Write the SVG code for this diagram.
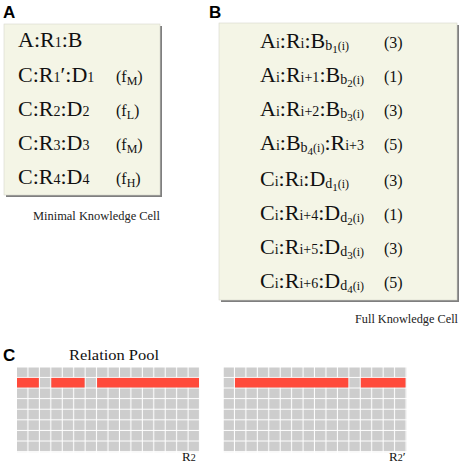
<svg xmlns="http://www.w3.org/2000/svg" width="461" height="466" viewBox="0 0 461 466">
<style>
.panel{font-family:"Liberation Sans",Arial,sans-serif;font-weight:bold;font-size:17px;fill:#000}
.box{fill:#f4f5e6;stroke:#d8d8cc;stroke-width:0.6}
.shadow{fill:#7f7f7f}
.t{font-family:"Liberation Serif","Times New Roman",serif;font-size:22px;fill:#111}
.f{font-family:"Liberation Serif","Times New Roman",serif;font-size:16px;fill:#111}
.cap{font-family:"Liberation Serif","Times New Roman",serif;font-size:12px;fill:#222}
.s{font-size:14px}
.red{fill:#ff4a3b}
</style>
<defs>
<pattern id="cell" patternUnits="userSpaceOnUse" width="11.44" height="10.6"><rect width="10.4" height="9.6" fill="#cdcdcd"/></pattern>
</defs>
<rect width="461" height="466" fill="#ffffff"/>

<text class="panel" x="3" y="18">A</text>
<text class="panel" x="209" y="18">B</text>
<text class="panel" x="3" y="361">C</text>

<g id="minimal-cell">
<rect class="shadow" x="6" y="26" width="156" height="171"/>
<rect class="box" x="4" y="24" width="156" height="171"/>
<text class="t" x="18" y="47">A:R<tspan class="s">1</tspan>:B</text>
<text class="t" x="18" y="82">C:R<tspan class="s">1</tspan>′:D<tspan class="s">1</tspan></text>
<text class="f" x="116" y="82">(f<tspan font-size="12" dy="3">M</tspan><tspan dy="-3">)</tspan></text>
<text class="t" x="18" y="116">C:R<tspan class="s">2</tspan>:D<tspan class="s">2</tspan></text>
<text class="f" x="116" y="116">(f<tspan font-size="12" dy="3">L</tspan><tspan dy="-3">)</tspan></text>
<text class="t" x="18" y="150">C:R<tspan class="s">3</tspan>:D<tspan class="s">3</tspan></text>
<text class="f" x="116" y="150">(f<tspan font-size="12" dy="3">M</tspan><tspan dy="-3">)</tspan></text>
<text class="t" x="18" y="184">C:R<tspan class="s">4</tspan>:D<tspan class="s">4</tspan></text>
<text class="f" x="116" y="184">(f<tspan font-size="12" dy="3">H</tspan><tspan dy="-3">)</tspan></text>
<text class="cap" x="33" y="220" textLength="127" lengthAdjust="spacingAndGlyphs">Minimal Knowledge Cell</text>
</g>

<g id="full-cell">
<rect class="shadow" x="221" y="25" width="238" height="277"/>
<rect class="box" x="219" y="23" width="238" height="277"/>
<text class="t" x="260" y="48">A<tspan class="s">i</tspan>:R<tspan class="s">i</tspan>:B<tspan font-size="14" dy="2">b</tspan><tspan font-size="11" dy="3">1</tspan><tspan font-size="12" dy="-3">(i)</tspan></text>
<text class="f" x="384" y="48">(3)</text>
<text class="t" x="260" y="82">A<tspan class="s">i</tspan>:R<tspan class="s">i+1</tspan>:B<tspan font-size="14" dy="2">b</tspan><tspan font-size="11" dy="3">2</tspan><tspan font-size="12" dy="-3">(i)</tspan></text>
<text class="f" x="384" y="82">(1)</text>
<text class="t" x="260" y="116">A<tspan class="s">i</tspan>:R<tspan class="s">i+2</tspan>:B<tspan font-size="14" dy="2">b</tspan><tspan font-size="11" dy="3">3</tspan><tspan font-size="12" dy="-3">(i)</tspan></text>
<text class="f" x="384" y="116">(3)</text>
<text class="t" x="260" y="150">A<tspan class="s">i</tspan>:B<tspan font-size="14" dy="2">b</tspan><tspan font-size="11" dy="3">4</tspan><tspan font-size="12" dy="-3">(i)</tspan><tspan dy="-2">:R</tspan><tspan class="s">i+3</tspan></text>
<text class="f" x="384" y="150">(5)</text>
<text class="t" x="260" y="186">C<tspan class="s">i</tspan>:R<tspan class="s">i</tspan>:D<tspan font-size="14" dy="2">d</tspan><tspan font-size="11" dy="3">1</tspan><tspan font-size="12" dy="-3">(i)</tspan></text>
<text class="f" x="384" y="186">(3)</text>
<text class="t" x="260" y="220">C<tspan class="s">i</tspan>:R<tspan class="s">i+4</tspan>:D<tspan font-size="14" dy="2">d</tspan><tspan font-size="11" dy="3">2</tspan><tspan font-size="12" dy="-3">(i)</tspan></text>
<text class="f" x="384" y="220">(1)</text>
<text class="t" x="260" y="254">C<tspan class="s">i</tspan>:R<tspan class="s">i+5</tspan>:D<tspan font-size="14" dy="2">d</tspan><tspan font-size="11" dy="3">3</tspan><tspan font-size="12" dy="-3">(i)</tspan></text>
<text class="f" x="384" y="254">(3)</text>
<text class="t" x="260" y="288">C<tspan class="s">i</tspan>:R<tspan class="s">i+6</tspan>:D<tspan font-size="14" dy="2">d</tspan><tspan font-size="11" dy="3">4</tspan><tspan font-size="12" dy="-3">(i)</tspan></text>
<text class="f" x="384" y="288">(5)</text>
<text class="cap" x="355" y="323" textLength="103" lengthAdjust="spacingAndGlyphs">Full Knowledge Cell</text>
</g>

<g id="relation-pool">
<text class="t" x="69" y="360" font-size="15" textLength="90" lengthAdjust="spacingAndGlyphs" style="font-size:15px">Relation Pool</text>
<g id="grid-R2" transform="translate(17,367.3)">
<rect width="183" height="84.8" fill="url(#cell)"/>
<rect class="red" x="0" y="10.6" width="21.84" height="9.6"/>
<rect class="red" x="34.32" y="10.6" width="33.28" height="9.6"/>
<rect class="red" x="80.08" y="10.6" width="101.92" height="9.6"/>
</g>
<text class="f" x="182" y="461" style="font-size:13px">R<tspan font-size="10">2</tspan></text>
<g id="grid-R2p" transform="translate(223.5,367.3)">
<rect width="183" height="84.8" fill="url(#cell)"/>
<rect class="red" x="11.44" y="10.6" width="113.36" height="9.6"/>
<rect class="red" x="137.28" y="10.6" width="44.72" height="9.6"/>
</g>
<text class="f" x="389" y="461" style="font-size:13px">R<tspan font-size="10">2</tspan>′</text>
</g>
</svg>
